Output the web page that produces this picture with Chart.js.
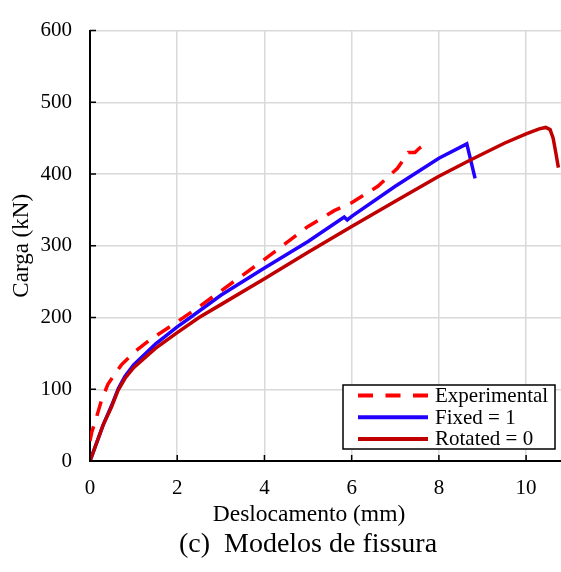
<html>
<head>
<meta charset="utf-8">
<style>
    body { margin: 0; background: #fff; }
    canvas { display: block; }
</style>
</head>
<body>
<canvas id="chart" width="561" height="572"></canvas>
<script src="https://cdn.jsdelivr.net/npm/chart.js"></script>
<script>
    // valores (deslocamento em mm, carga em kN)
    const expX = [0, 0.04, 0.12, 0.26, 0.41, 0.72, 1.02, 1.4, 2, 2.5, 3, 4, 5, 5.6, 6, 6.6, 7.05, 7.3, 7.45, 7.55, 7.65];
    const expY = [28, 40, 55, 84, 107, 134, 152, 170, 194, 215, 237, 281, 327, 349, 360, 383, 408, 430, 430, 436, 440];

    const fixedX = [0, 0.3, 0.5, 0.65, 0.8, 1, 1.5, 2, 2.3, 3, 4, 5, 5.83, 5.9, 6, 7, 8, 8.64, 8.83];
    const fixedY = [0, 50, 78, 101, 118, 134, 163, 187, 200, 231, 269, 306, 340, 336, 341, 383, 422, 442, 394];

    const rotX = [0, 0.3, 0.49, 0.64, 0.8, 1, 1.5, 2, 2.5, 3, 4, 5, 6, 7, 8, 8.7, 9, 9.5, 10, 10.3, 10.45, 10.55, 10.62, 10.68, 10.74];
    const rotY = [0, 50, 75, 98, 115, 130, 157, 179, 200, 218, 254, 291, 327, 362, 397, 419, 428, 443, 456, 463, 465, 462, 450, 430, 409];

    const seriesNames = ['Experimental', 'Fixed = 1', 'Rotated = 0'];
    const xTicks = [0, 2, 4, 6, 8, 10];
    const yTicks = [0, 100, 200, 300, 400, 500, 600];
    const xTitle = 'Deslocamento (mm)';
    const caption = '(c)  Modelos de fissura';

    const serif = "'Liberation Serif', 'Times New Roman', serif";

    function pts(xs, ys) {
        return xs.map((x, i) => ({x: x, y: ys[i]}));
    }

    // pequenos tracos para dentro dos eixos
    const innerTicks = {
        id: 'innerTicks',
        afterDatasetsDraw(chart) {
            const ctx = chart.ctx;
            const xs = chart.scales.x, ys = chart.scales.y;
            ctx.save();
            ctx.strokeStyle = '#000';
            ctx.lineWidth = 1.5;
            ctx.beginPath();
            xTicks.forEach(v => {
                const px = xs.getPixelForValue(v);
                ctx.moveTo(px, ys.bottom);
                ctx.lineTo(px, ys.bottom - 6);
            });
            yTicks.forEach(v => {
                const py = ys.getPixelForValue(v);
                ctx.moveTo(xs.left, py);
                ctx.lineTo(xs.left + 6, py);
            });
            ctx.stroke();
            ctx.restore();
        }
    };

    // titulo do eixo x e legenda da figura (centrados um pouco a esquerda, como no original)
    const bottomTexts = {
        id: 'bottomTexts',
        afterDraw(chart) {
            const ctx = chart.ctx;
            ctx.save();
            ctx.fillStyle = '#000';
            ctx.textAlign = 'center';
            ctx.textBaseline = 'middle';
            ctx.font = '23.5px ' + serif;
            ctx.fillText(xTitle, 309, 515);
            ctx.font = '28px ' + serif;
            ctx.fillText(caption, 308, 545);
            ctx.restore();
        }
    };

    // legenda com moldura no canto inferior direito
    const legendBox = {
        id: 'legendBox',
        afterDraw(chart) {
            const ctx = chart.ctx;
            const area = chart.chartArea;
            const w = 212, h = 64;
            const x0 = area.right - 6 - w;
            const y0 = area.bottom - 12 - h;
            ctx.save();
            ctx.fillStyle = '#fff';
            ctx.fillRect(x0, y0, w, h);
            ctx.strokeStyle = '#000';
            ctx.lineWidth = 1.5;
            ctx.strokeRect(x0, y0, w, h);
            chart.data.datasets.forEach((ds, i) => {
                const yy = y0 + 10.5 + i * 21.7;
                ctx.beginPath();
                ctx.setLineDash(ds.borderDash ? [15, 12.5] : []);
                ctx.strokeStyle = ds.borderColor;
                ctx.lineWidth = 4;
                ctx.moveTo(x0 + 15, yy);
                ctx.lineTo(x0 + 85, yy);
                ctx.stroke();
                ctx.setLineDash([]);
                ctx.fillStyle = '#000';
                ctx.font = '21px ' + serif;
                ctx.textBaseline = 'middle';
                ctx.textAlign = 'left';
                ctx.fillText(ds.label, x0 + 92, yy + 1);
            });
            ctx.restore();
        }
    };

    const config = {
        type: 'scatter',
        data: {
            datasets: [{
                label: seriesNames[0],
                data: pts(expX, expY),
                borderColor: '#ff0000',
                borderWidth: 3.5,
                borderDash: [15, 11],
                showLine: true,
                pointRadius: 0,
                order: 0
            }, {
                label: seriesNames[1],
                data: pts(fixedX, fixedY),
                borderColor: '#2200ff',
                borderWidth: 3.5,
                showLine: true,
                pointRadius: 0,
                order: 2
            }, {
                label: seriesNames[2],
                data: pts(rotX, rotY),
                borderColor: '#c00000',
                borderWidth: 3.5,
                showLine: true,
                pointRadius: 0,
                order: 1
            }]
        },
        options: {
            responsive: false,
            animation: false,
            layout: {padding: {top: 23, right: 0, left: 0, bottom: 0}},
            plugins: {
                legend: {display: false},
                tooltip: {enabled: false}
            },
            scales: {
                x: {
                    type: 'linear',
                    min: 0,
                    max: 10.8,
                    afterFit: s => { s.height = 111; },
                    afterBuildTicks: s => { s.ticks = xTicks.map(v => ({value: v})); },
                    ticks: {color: '#000', padding: 15, font: {family: serif, size: 21}},
                    grid: {color: '#d9d9d9', lineWidth: 1.5, drawTicks: false},
                    border: {color: '#000', width: 2}
                },
                y: {
                    min: 0,
                    max: 600,
                    afterFit: s => { s.width = 90; },
                    afterBuildTicks: s => { s.ticks = yTicks.map(v => ({value: v})); },
                    ticks: {color: '#000', padding: 18, font: {family: serif, size: 21}},
                    grid: {color: '#d9d9d9', lineWidth: 1.5, drawTicks: false},
                    border: {color: '#000', width: 2},
                    title: {
                        display: true,
                        text: 'Carga (kN)',
                        color: '#000',
                        font: {family: serif, size: 23, lineHeight: 1.2},
                        padding: {top: 8, bottom: 0}
                    }
                }
            }
        },
        plugins: [innerTicks, legendBox, bottomTexts]
    };

    const chart = new Chart(document.getElementById('chart').getContext('2d'), config);
</script>
</body>
</html>
